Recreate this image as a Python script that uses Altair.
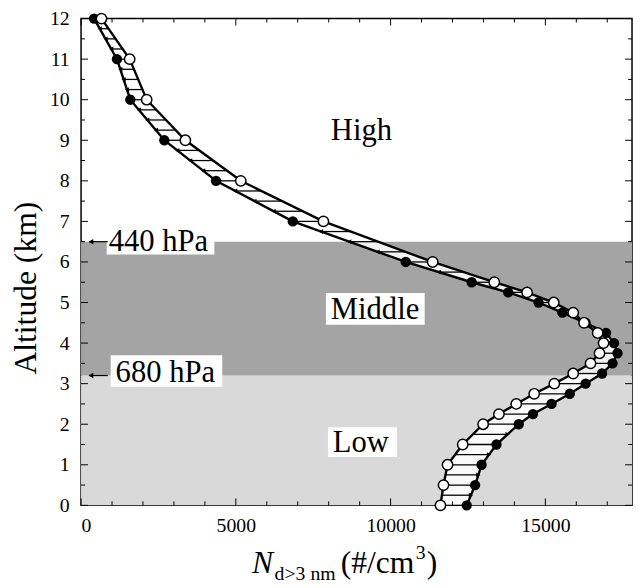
import altair as alt
import pandas as pd
import numpy as np

# ---- data ----
altitude = [12, 11, 10, 9, 8, 7, 6, 5.5, 5.25, 5.0, 4.75, 4.5, 4.25, 4.0,
            3.75, 3.5, 3.25, 3.0, 2.75, 2.5, 2.25, 2.0, 1.5, 1.0, 0.5, 0]
n_filled = [420, 1160, 1590, 2690, 4360, 6840, 10490, 12620, 13800, 14780,
            15550, 16300, 16960, 17220, 17330, 17170, 16830, 16300, 15790,
            15200, 14600, 14140, 13420, 12940, 12730, 12460]
n_open = [660, 1570, 2120, 3370, 5160, 7830, 11360, 13350, 14410, 15270,
          15900, 16250, 16690, 16880, 16750, 16460, 15900, 15290, 14640,
          14060, 13500, 12990, 12330, 11840, 11710, 11610]

band_bottom = [0, 3.2]
band_top = [3.2, 6.5]
band_colors = ["#d9d9d9", "#a4a4a4"]
pressure_labels = ["680 hPa", "440 hPa"]

x_major = [0, 5000, 10000, 15000]
x_minor = [1000, 2000, 3000, 4000, 6000, 7000, 8000, 9000, 11000, 12000,
           13000, 14000, 16000, 17000]
y_major = [0, 1, 2, 3, 4, 5, 6, 7, 8, 9, 10, 11, 12]
y_minor = [0.5, 1.5, 2.5, 3.5, 4.5, 5.5, 6.5, 7.5, 8.5, 9.5, 10.5, 11.5]

# plot area placement on the page
PL, PT = 82, 15          # page x of left edge, page y of top edge
W, H = 558, 493
XMAX = 17800
FONT = "Liberation Serif"

xs = alt.Scale(domain=[0, XMAX], nice=False, zero=False)
ys = alt.Scale(domain=[0, 12], nice=False)
xaxis = alt.Axis(values=x_major, format="d", tickSize=0, domain=False, grid=False,
                 labelPadding=10, labelFontSize=20, labelFont=FONT,
                 labelColor="black", title=None)
yaxis = alt.Axis(values=y_major, format="d", tickSize=0, domain=False, grid=False,
                 labelPadding=12, labelFontSize=20, labelFont=FONT,
                 labelColor="black", title=None)

df = pd.DataFrame({"alt": altitude, "filled": n_filled, "open": n_open,
                   "idx": list(range(len(altitude)))})

# hatching between the two profiles (decoration derived from the profiles)
asc = df.sort_values("alt")
hatch_alt = np.arange(0, 12.001, 0.25)
hatch = pd.DataFrame({
    "alt": hatch_alt,
    "filled": np.interp(hatch_alt, asc["alt"], asc["filled"]),
    "open": np.interp(hatch_alt, asc["alt"], asc["open"]),
})
hatch = hatch[(hatch["filled"] - hatch["open"]).abs() > 200].copy()
hatch["dir"] = np.where(hatch["filled"] > hatch["open"], "triangle-right", "triangle-left")

bands = pd.DataFrame({"bottom": band_bottom, "top": band_top, "color": band_colors,
                      "label": pressure_labels})

one = pd.DataFrame({"a": [0]})

X = lambda f: alt.X(f, scale=xs, axis=xaxis)
Y = lambda f: alt.Y(f, scale=ys, axis=yaxis)

band_layer = alt.Chart(bands).mark_rect().encode(
    y=Y("bottom:Q"), y2="top:Q", x=alt.value(0), x2=alt.value(W),
    color=alt.Color("color:N", scale=None))

def box(x1, x2, y1, y2):  # page coordinates
    return alt.Chart(one).mark_rect(color="white").encode(
        x=alt.value(x1 - PL), x2=alt.value(x2 - PL),
        y=alt.value(y1 - PT), y2=alt.value(y2 - PT))

def txt(s, x, y, size=31, italic=False, angle=0, align="left", baseline="alphabetic"):
    kw = dict(text=s, font=FONT, fontSize=size, color="black", align=align,
              baseline=baseline)
    if italic:
        kw["fontStyle"] = "italic"
    if angle:
        kw["angle"] = angle
    return alt.Chart(one).mark_text(**kw).encode(x=alt.value(x - PL), y=alt.value(y - PT))

boxes = [box(108, 217, 229, 254), box(112, 225, 356, 388),
         box(330, 430, 293, 325), box(332, 402, 429, 459)]

arrow_lines = alt.Chart(bands).mark_rule(color="black", strokeWidth=1.2).encode(
    y=Y("top:Q"), x=alt.value(8), x2=alt.value(27))
arrow_heads = alt.Chart(bands).mark_point(shape="triangle-left", filled=True,
                                          color="black", size=30, opacity=1).encode(
    y=Y("top:Q"), x=alt.value(10))

area = alt.Chart(hatch).mark_area(orient="horizontal", color="white", opacity=0.85).encode(
    y=Y("alt:Q"), x=X("open:Q"), x2="filled:Q")

hatch_rules = alt.Chart(hatch).mark_rule(color="black", strokeWidth=1.3).encode(
    y=Y("alt:Q"), x=X("open:Q"), x2="filled:Q")
hatch_heads = alt.Chart(hatch).mark_point(filled=True, color="black", size=24, opacity=1).encode(
    y=Y("alt:Q"), x=X("filled:Q"), shape=alt.Shape("dir:N", scale=None))

line_f = alt.Chart(df).mark_line(color="black", strokeWidth=2.4).encode(
    x=X("filled:Q"), y=Y("alt:Q"), order="idx:Q")
line_o = alt.Chart(df).mark_line(color="black", strokeWidth=2.4).encode(
    x=X("open:Q"), y=Y("alt:Q"), order="idx:Q")
pts_f = alt.Chart(df).mark_point(filled=True, color="black", size=110, opacity=1).encode(
    x=X("filled:Q"), y=Y("alt:Q"))
pts_o = alt.Chart(df).mark_point(filled=True, fill="white", stroke="black",
                                 strokeWidth=1.5, size=110, opacity=1).encode(
    x=X("open:Q"), y=Y("alt:Q"))

# inward ticks on all four sides
def xticks(vals, length):
    d = pd.DataFrame({"v": vals})
    b = alt.Chart(d).mark_rule(color="black", strokeWidth=1).encode(
        x=X("v:Q"), y=alt.value(H - length), y2=alt.value(H))
    t = alt.Chart(d).mark_rule(color="black", strokeWidth=1).encode(
        x=X("v:Q"), y=alt.value(0), y2=alt.value(length))
    return [b, t]

def yticks(vals, length):
    d = pd.DataFrame({"v": vals})
    l = alt.Chart(d).mark_rule(color="black", strokeWidth=1).encode(
        y=Y("v:Q"), x=alt.value(0), x2=alt.value(length))
    r = alt.Chart(d).mark_rule(color="black", strokeWidth=1).encode(
        y=Y("v:Q"), x=alt.value(W - length), x2=alt.value(W))
    return [l, r]

ticks = xticks(x_major, 7) + xticks(x_minor, 4) + yticks(y_major, 7) + yticks(y_minor, 4)

texts = [
    txt("High", 335, 138),
    txt("Middle", 335, 319),
    txt("Low", 337, 454),
    txt(pressure_labels[1], 110, 250),
    txt(pressure_labels[0], 117, 383),
    txt("Altitude (km)", 26, 288, size=32, angle=270, align="center", baseline="middle"),
    txt("N", 255, 577, size=32, italic=True),
    txt("d>3 nm", 278, 584, size=20),
    txt("(#/cm", 345, 577, size=32),
    txt("3", 421, 562, size=20),
    txt(")", 432, 577, size=32),
]

chart = alt.layer(
    band_layer, *boxes, arrow_lines, arrow_heads, area, hatch_rules,
    line_f, line_o, hatch_heads, pts_f, pts_o, *ticks, *texts
).properties(
    width=W, height=H,
    autosize=alt.AutoSizeParams(type="none"),
    padding={"left": PL - 8, "top": PT - 8, "right": 2, "bottom": 580 - (PT - 8) - H},
    background="white",
).configure_view(
    stroke="black", strokeWidth=1.5
).configure_axis(
    labelFont=FONT, labelFontSize=20, labelColor="black"
)

chart.save("out.html", embed_options={"renderer": "svg", "actions": False})
